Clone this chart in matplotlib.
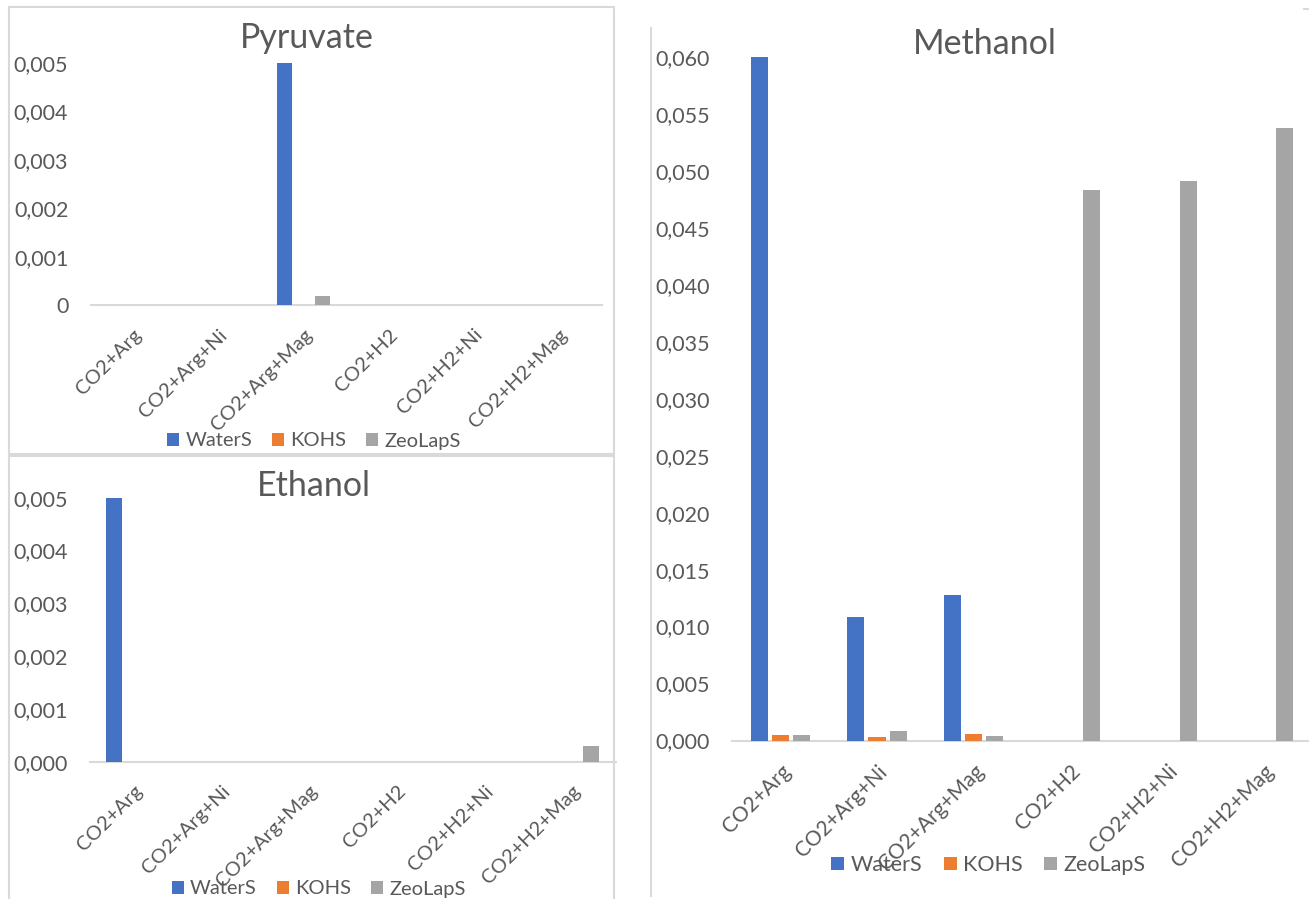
import numpy as np
import matplotlib
matplotlib.use("Agg")
import matplotlib.pyplot as plt
from matplotlib.lines import Line2D
from matplotlib.patches import Patch
import matplotlib.transforms as mtransforms

plt.rcParams['font.family'] = ['Lato', 'DejaVu Sans']

categories = ['CO2+Arg', 'CO2+Arg+Ni', 'CO2+Arg+Mag', 'CO2+H2', 'CO2+H2+Ni', 'CO2+H2+Mag']
series_names = ['WaterS', 'KOHS', 'ZeoLapS']
colors = ['#4472C4', '#ED7D31', '#A5A5A5']

pyruvate_water = [0, 0, 0.005, 0, 0, 0]
pyruvate_koh = [0, 0, 0, 0, 0, 0]
pyruvate_zeo = [0, 0, 0.0002, 0, 0, 0]

ethanol_water = [0.005, 0, 0, 0, 0, 0]
ethanol_koh = [0, 0, 0, 0, 0, 0]
ethanol_zeo = [0, 0, 0, 0, 0, 0.0003]

methanol_water = [0.060, 0.0108, 0.0128, 0, 0, 0]
methanol_koh = [0.0005, 0.0003, 0.0006, 0, 0, 0]
methanol_zeo = [0.0005, 0.0008, 0.0004, 0.0483, 0.0491, 0.0538]

pyruvate_ticks = [0, 0.001, 0.002, 0.003, 0.004, 0.005]
pyruvate_ticklabels = ['0', '0,001', '0,002', '0,003', '0,004', '0,005']
ethanol_ticks = [0, 0.001, 0.002, 0.003, 0.004, 0.005]
ethanol_ticklabels = ['0,000', '0,001', '0,002', '0,003', '0,004', '0,005']
methanol_ticks = [i * 0.005 for i in range(13)]
methanol_ticklabels = ['0,%03d' % (5 * i) for i in range(13)]

W, H = 1309, 899
TXT = '#595959'
LINE = '#D9D9D9'

fig = plt.figure(figsize=(W / 100, H / 100), dpi=100)


def rect(left, top, right, bottom):
    return [left / W, 1 - bottom / H, (right - left) / W, (bottom - top) / H]


def fline(xs, ys):
    fig.add_artist(Line2D([x / W for x in xs], [1 - y / H for y in ys],
                          color=LINE, lw=1.5, transform=fig.transFigure))


def panel(box, title, title_xy, data, ticks, ticklabels, ymax, legend_xy,
          fs=15.5, xfs=14.5, legend_fs=14.5, bar_w=0.18, step=0.22):
    ax = fig.add_axes(rect(*box))
    x = np.arange(len(categories))
    for i, vals in enumerate(data):
        ax.bar(x + (i - 1) * step, vals, width=bar_w, color=colors[i], zorder=3)
    ax.set_xlim(-0.5, len(categories) - 0.5)
    ax.set_ylim(0, ymax)
    ax.set_yticks(ticks)
    ax.set_yticklabels(ticklabels, fontsize=fs, color=TXT)
    ax.set_xticks(x)
    ax.set_xticklabels(categories, fontsize=xfs, color=TXT,
                       rotation=45, ha='right', va='top', rotation_mode='anchor')
    shift = mtransforms.ScaledTranslation(0.06, 0, fig.dpi_scale_trans)
    for lab in ax.get_xticklabels():
        lab.set_transform(lab.get_transform() + shift)
    ax.tick_params(axis='both', length=0)
    ax.tick_params(axis='y', pad=16)
    ax.tick_params(axis='x', pad=15)
    for s in ['top', 'right', 'left']:
        ax.spines[s].set_visible(False)
    ax.spines['bottom'].set_color(LINE)
    ax.spines['bottom'].set_linewidth(1.5)
    ax.patch.set_alpha(0)
    fig.text(title_xy[0] / W, 1 - title_xy[1] / H, title, fontsize=24.5,
             color=TXT, ha='center', va='center')
    handles = [Patch(facecolor=c, edgecolor='none') for c in colors]
    fig.legend(handles, series_names, loc='center',
               bbox_to_anchor=(legend_xy[0] / W, 1 - legend_xy[1] / H),
               ncol=3, frameon=False, fontsize=legend_fs, labelcolor=TXT,
               handlelength=0.6, handleheight=0.6, handletextpad=0.3,
               columnspacing=1.0)
    return ax


# panel frames
fline([9, 614, 614, 9, 9], [7, 7, 454, 454, 7])
fline([9, 614], [456, 456])
fline([9, 9], [456, 899])
fline([614, 614], [456, 899])
fline([651, 651], [28, 896])
fline([1304, 1309], [9, 9])

panel((90.5, 62.7, 601.7, 305.3), 'Pyruvate', (307, 38),
      [pyruvate_water, pyruvate_koh, pyruvate_zeo],
      pyruvate_ticks, pyruvate_ticklabels, 0.005, (314, 441))

panel((89.6, 497.7, 615.8, 761.8), 'Ethanol', (313.5, 486),
      [ethanol_water, ethanol_koh, ethanol_zeo],
      ethanol_ticks, ethanol_ticklabels, 0.005, (318.5, 889))

panel((732, 57, 1312, 740.5), 'Methanol', (985, 44),
      [methanol_water, methanol_koh, methanol_zeo],
      methanol_ticks, methanol_ticklabels, 0.060, (988.5, 865),
      xfs=15, legend_fs=15.5, bar_w=0.176)

fig.savefig('out.png', dpi=100, facecolor='white')
